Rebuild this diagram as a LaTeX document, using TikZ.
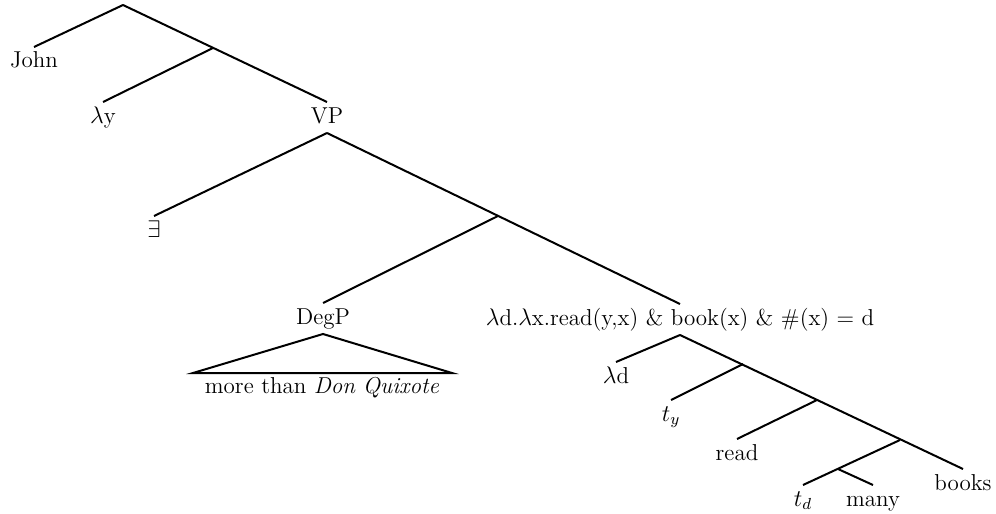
\documentclass[tikz,border=0pt]{standalone}
\usepackage{amsmath}
\usepackage{amssymb}
\begin{document}
\begin{tikzpicture}[x=0.5pt,y=-0.5pt,line width=1pt,
	lbl/.style={anchor=base,inner sep=2.5pt,text height=7.5pt,text depth=2pt,
		font=\fontsize{11.5}{14}\selectfont}]
	\useasboundingbox (0,0) rectangle (996,514);
	% upper part
	\coordinate (top) at (123,5);
	\coordinate (b1) at (213,48);
	\node[lbl] (john) at (34,68) {John};
	\node[lbl] (ly) at (103,123) {$\lambda$y};
	\node[lbl] (vp) at (327,123) {VP};
	\draw (top) -- (john.north);
	\draw (top) -- (vp.north);
	\draw (b1) -- (ly.north);
	% VP
	\coordinate (b2) at (498,216);
	\node[lbl] (ex) at (154,237) {$\exists$};
	\node[lbl] (degp) at (323,324) {DegP};
	\node[lbl] (fm) at (680,325) {$\lambda$d.$\lambda$x.read(y,x) \& book(x) \& \#(x) = d};
	\draw (vp.south) -- (ex.north);
	\draw (vp.south) -- (fm.north);
	\draw (b2) -- (degp.north);
	% DegP triangle
	\coordinate (tl) at (193,373);
	\coordinate (tr) at (452,373);
	\draw (degp.south) -- (tl) -- (tr) -- cycle;
	\node[lbl] (mq) at (322,393) {more than \textit{Don Quixote}};
	% lower right branch
	\coordinate (b3) at (743,364);
	\coordinate (b4) at (817,400);
	\coordinate (b5) at (900,440);
	\coordinate (b6) at (838,469);
	\node[lbl] (ld) at (616,383) {$\lambda$d};
	\node[lbl] (ty) at (671,421) {$t_y$};
	\node[lbl] (rd) at (737,460) {read};
	\node[lbl] (bk) at (963,490) {books};
	\node[lbl] (td) at (803,506) {$t_d$};
	\node[lbl] (mn) at (873,506) {many};
	\draw (fm.south) -- (ld.north);
	\draw (fm.south) -- (bk.north);
	\foreach \b/\n in {b3/ty,b4/rd,b5/td,b6/mn}
		\draw (\b) -- (\n.north);
\end{tikzpicture}
\end{document}
